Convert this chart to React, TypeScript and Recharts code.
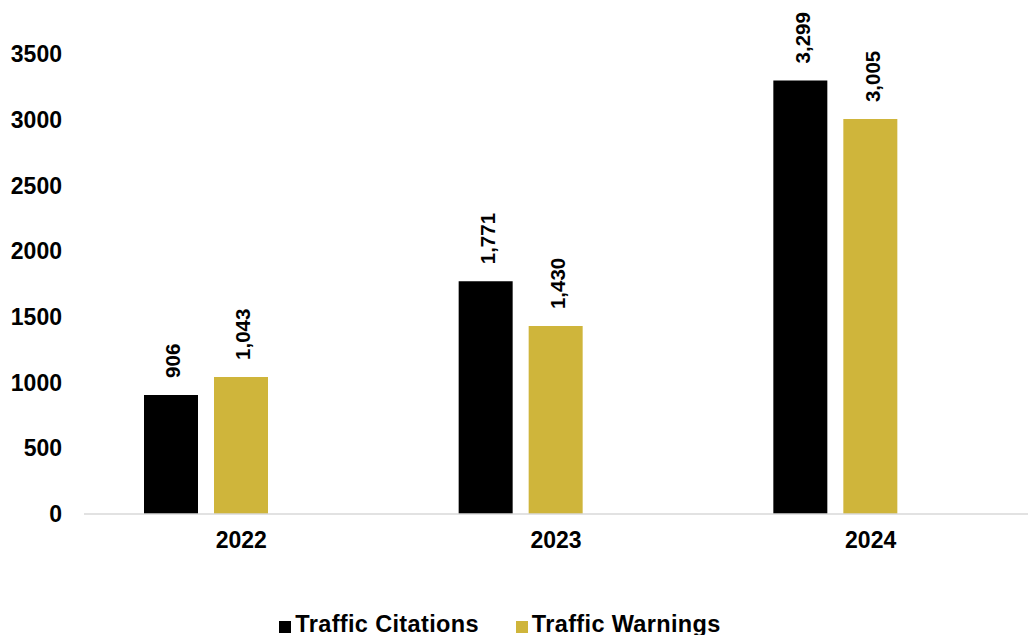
import React from 'react';
import { BarChart, Bar, XAxis, YAxis, Legend, LabelList } from 'recharts';

const years = ['2022', '2023', '2024'];
const citations = [906, 1771, 3299];
const warnings = [1043, 1430, 3005];
const yTicks = [0, 500, 1000, 1500, 2000, 2500, 3000, 3500];

const data = years.map((y, i) => ({ year: y, citations: citations[i], warnings: warnings[i], blank: null }));

const FONT = '"Liberation Sans", Arial, sans-serif';
const GOLD = '#CFB53B';

const RotLabel = (props: any) => {
  const { x, y, width, value } = props;
  if (value == null) return null;
  const cx = Number(x) + Number(width) / 2 + 2;
  const ty = Number(y) - 17;
  return (
    <text
      x={cx}
      y={ty}
      transform={`rotate(-90 ${cx} ${ty})`}
      textAnchor="start"
      dominantBaseline="central"
      fontFamily={FONT}
      fontWeight="bold"
      fontSize={20.5}
      fill="#000"
    >
      {Number(value).toLocaleString('en-US')}
    </text>
  );
};

const LegendContent = () => (
  <div
    style={{
      display: 'flex',
      justifyContent: 'center',
      alignItems: 'center',
      width: 1000,
      fontFamily: FONT,
      fontWeight: 'bold',
      fontSize: 23.5,
      letterSpacing: 0.35,
      color: '#000',
      lineHeight: '27px',
    }}
  >
    <div style={{ display: 'flex', alignItems: 'center', marginRight: 37 }}>
      <span style={{ display: 'inline-block', width: 12, height: 12, background: '#000', marginRight: 4, marginTop: 4 }} />
      <span>Traffic Citations</span>
    </div>
    <div style={{ display: 'flex', alignItems: 'center' }}>
      <span style={{ display: 'inline-block', width: 12, height: 12, background: GOLD, marginRight: 4, marginTop: 4 }} />
      <span>Traffic Warnings</span>
    </div>
  </div>
);

export default function App() {
  return (
    <div style={{ position: 'absolute', left: 0, top: 0, width: 1035, height: 635, background: '#fff', overflow: 'hidden' }}>
      <BarChart
        width={1035}
        height={635}
        data={data}
        margin={{ top: 54, right: 7, left: 0, bottom: 81 }}
        barSize={54}
        barGap={16}
      >
        <XAxis
          dataKey="year"
          height={40}
          axisLine={{ stroke: '#d9d9d9', strokeWidth: 1.5 }}
          tickLine={false}
          tickSize={0}
          tickMargin={18}
          tick={{ fontFamily: FONT, fontWeight: 'bold', fontSize: 23, fill: '#000' }}
        />
        <YAxis
          width={84}
          domain={[0, 3500]}
          ticks={yTicks}
          axisLine={false}
          tickLine={false}
          tickSize={0}
          tickMargin={22}
          tick={{ fontFamily: FONT, fontWeight: 'bold', fontSize: 23, fill: '#000' }}
        />
        <Legend
          verticalAlign="bottom"
          content={LegendContent}
          wrapperStyle={{ top: 611, bottom: 'auto', left: 0, width: 1000, height: 0, overflow: 'visible' }}
        />
        <Bar dataKey="citations" name="Traffic Citations" fill="#000" isAnimationActive={false}>
          <LabelList dataKey="citations" content={RotLabel} />
        </Bar>
        <Bar dataKey="warnings" name="Traffic Warnings" fill={GOLD} isAnimationActive={false}>
          <LabelList dataKey="warnings" content={RotLabel} />
        </Bar>
        <Bar dataKey="blank" legendType="none" fill="transparent" isAnimationActive={false} />
      </BarChart>
    </div>
  );
}
